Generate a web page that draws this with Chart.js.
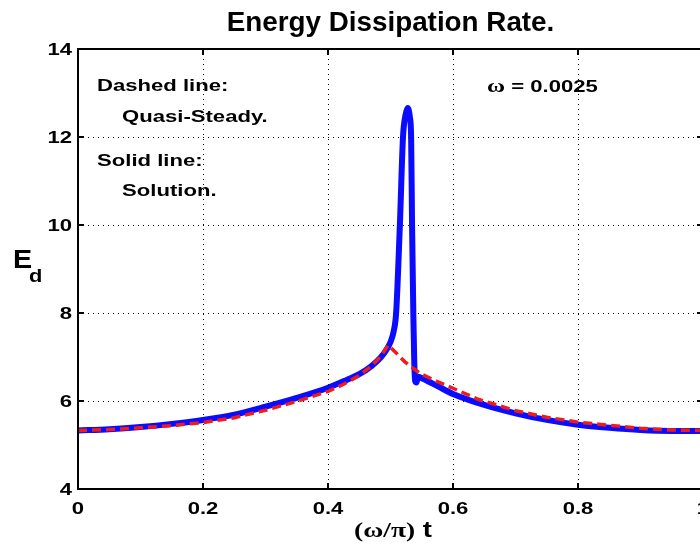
<!DOCTYPE html>
<html>
<head>
<meta charset="utf-8">
<script src="https://cdn.jsdelivr.net/npm/chart.js@4.4.1/dist/chart.umd.min.js"></script>
<style>
  html, body { margin: 0; padding: 0; background: #fff; overflow: hidden; }
  #wrap { width: 700px; height: 549px; overflow: hidden; }
</style>
</head>
<body>
<div id="wrap"><canvas id="ed" width="710" height="549"></canvas></div>
<script>
// Solid line: the solution
const solT = [0, 0.05, 0.1, 0.15, 0.2, 0.25, 0.3, 0.35, 0.4, 0.43, 0.45, 0.47, 0.485, 0.495, 0.5, 0.505,
  0.509, 0.515, 0.52, 0.524, 0.5275, 0.531, 0.533, 0.5345, 0.5365, 0.538, 0.5395, 0.5415, 0.544,
  0.55, 0.575, 0.6, 0.65, 0.7, 0.75, 0.8, 0.85, 0.9, 0.95, 1.0];
const solE = [5.33, 5.36, 5.41, 5.48, 5.57, 5.69, 5.87, 6.07, 6.30, 6.48, 6.61, 6.80, 7.00, 7.20, 7.34, 7.58,
  8.0, 10.0, 12.0, 12.5, 12.66, 12.45, 12.0, 10.0, 8.0, 6.9, 6.45, 6.42, 6.55,
  6.52, 6.34, 6.16, 5.91, 5.72, 5.57, 5.46, 5.39, 5.34, 5.32, 5.32];

// Dashed line: quasi-steady
const qsT = [0, 0.05, 0.1, 0.15, 0.2, 0.25, 0.3, 0.35, 0.4, 0.425, 0.45, 0.47, 0.485, 0.496,
  0.51, 0.523, 0.547, 0.575, 0.6, 0.64, 0.7, 0.75, 0.8, 0.85, 0.9, 0.95, 1.0];
const qsE = [5.33, 5.35, 5.39, 5.44, 5.51, 5.62, 5.79, 5.99, 6.22, 6.38, 6.58, 6.80, 7.02, 7.27,
  7.08, 6.89, 6.63, 6.44, 6.29, 6.04, 5.78, 5.63, 5.52, 5.45, 5.38, 5.34, 5.33];

const xTicks = [0, 0.2, 0.4, 0.6, 0.8, 1];
const xTickLabels = ['0', '0.2', '0.4', '0.6', '0.8', '1'];
const yTicks = [4, 6, 8, 10, 12, 14];
const yTickLabels = ['4', '6', '8', '10', '12', '14'];

const SANS = '"Liberation Sans", Arial, sans-serif';
const SERIF = '"Liberation Serif", "Times New Roman", serif';

// draw a row of text pieces, stretched sideways by sx
function drawRuns(ctx, runs, x, y, align, sx) {
  let w = 0;
  runs.forEach(r => { ctx.font = r.font; w += ctx.measureText(r.text).width; });
  let start = 0;
  if (align === 'center') start = -w / 2;
  if (align === 'right') start = -w;
  ctx.save();
  ctx.translate(x, y);
  ctx.scale(sx, 1);
  ctx.textAlign = 'left';
  let cx = start;
  runs.forEach(r => {
    ctx.font = r.font;
    ctx.fillText(r.text, cx, 0);
    cx += ctx.measureText(r.text).width;
  });
  ctx.restore();
}

const frame = {
  id: 'frame',
  beforeDraw(chart) {
    const ctx = chart.ctx;
    ctx.save();
    ctx.fillStyle = '#fff';
    ctx.fillRect(0, 0, chart.width, chart.height);
    ctx.restore();
  },
  afterDraw(chart) {
    const { ctx, chartArea: a, scales: { x, y } } = chart;
    ctx.save();
    ctx.strokeStyle = '#000';
    ctx.lineWidth = 2;
    ctx.strokeRect(a.left, a.top, a.right - a.left, a.bottom - a.top);

    // ticks point inwards, on all four sides
    ctx.beginPath();
    xTicks.forEach(v => {
      const px = x.getPixelForValue(v);
      ctx.moveTo(px, a.bottom); ctx.lineTo(px, a.bottom - 6);
      ctx.moveTo(px, a.top); ctx.lineTo(px, a.top + 6);
    });
    yTicks.forEach(v => {
      const py = y.getPixelForValue(v);
      ctx.moveTo(a.left, py); ctx.lineTo(a.left + 6, py);
      ctx.moveTo(a.right, py); ctx.lineTo(a.right - 6, py);
    });
    ctx.stroke();

    ctx.fillStyle = '#000';
    ctx.textBaseline = 'middle';
    const tickFont = 'bold 17px ' + SANS;
    xTicks.forEach((v, i) => {
      drawRuns(ctx, [{ text: xTickLabels[i], font: tickFont }], x.getPixelForValue(v), a.bottom + 20, 'center', 1.3);
    });
    yTicks.forEach((v, i) => {
      drawRuns(ctx, [{ text: yTickLabels[i], font: tickFont }], a.left - 6, y.getPixelForValue(v) + 1, 'right', 1.3);
    });

    ctx.textBaseline = 'alphabetic';
    // title
    drawRuns(ctx, [{ text: 'Energy Dissipation Rate.', font: 'bold 27px ' + SANS }], (a.left + a.right) / 2, 31, 'center', 1.03);

    // axis labels
    drawRuns(ctx, [
      { text: '(\u03c9/\u03c0)', font: 'bold 22px ' + SERIF },
      { text: ' t', font: 'bold 22px ' + SANS }
    ], 393, 537, 'center', 1.25);
    drawRuns(ctx, [{ text: 'E', font: 'bold 25px ' + SANS }], 13, 268, 'left', 1.15);
    drawRuns(ctx, [{ text: 'd', font: 'bold 19px ' + SANS }], 29, 282, 'left', 1.15);

    // notes inside the plot
    const noteFont = 'bold 17px ' + SANS;
    drawRuns(ctx, [{ text: 'Dashed line:', font: noteFont }], 97, 91, 'left', 1.3);
    drawRuns(ctx, [{ text: 'Quasi-Steady.', font: noteFont }], 122, 122, 'left', 1.3);
    drawRuns(ctx, [{ text: 'Solid line:', font: noteFont }], 97, 166, 'left', 1.3);
    drawRuns(ctx, [{ text: 'Solution.', font: noteFont }], 122, 196, 'left', 1.3);
    drawRuns(ctx, [
      { text: '\u03c9', font: 'bold 19px ' + SERIF },
      { text: ' = 0.0025', font: 'bold 17px ' + SANS }
    ], 487, 92, 'left', 1.3);
    ctx.restore();
  }
};

function pts(ts, es) {
  return ts.map((t, i) => ({ x: t, y: es[i] }));
}

const axisBase = {
  type: 'linear',
  ticks: { display: false },
  grid: { color: '#000', lineWidth: 1, drawTicks: false },
  border: { display: false, dash: [1, 4] }
};

new Chart(document.getElementById('ed'), {
  type: 'line',
  data: {
    datasets: [
      {
        label: 'Quasi-Steady',
        data: pts(qsT, qsE),
        borderColor: '#ee1c1c',
        borderWidth: 3.5,
        borderDash: [9, 5],
        pointRadius: 0,
        tension: 0,
        fill: false
      },
      {
        label: 'Solution',
        data: pts(solT, solE),
        borderColor: '#0b0bff',
        borderWidth: 6,
        borderJoinStyle: 'round',
        borderCapStyle: 'round',
        cubicInterpolationMode: 'monotone',
        pointRadius: 0,
        fill: false
      }
    ]
  },
  options: {
    responsive: false,
    animation: false,
    events: [],
    layout: { padding: { left: 78, top: 49, right: 7, bottom: 60 } },
    plugins: { legend: { display: false }, tooltip: { enabled: false } },
    scales: {
      x: Object.assign({}, axisBase, {
        min: 0, max: 1,
        afterBuildTicks: s => { s.ticks = xTicks.map(v => ({ value: v })); },
        afterFit: s => { s.height = 0; }
      }),
      y: Object.assign({}, axisBase, {
        min: 4, max: 14,
        afterBuildTicks: s => { s.ticks = yTicks.map(v => ({ value: v })); },
        afterFit: s => { s.width = 0; }
      })
    }
  },
  plugins: [frame]
});
</script>
</body>
</html>
